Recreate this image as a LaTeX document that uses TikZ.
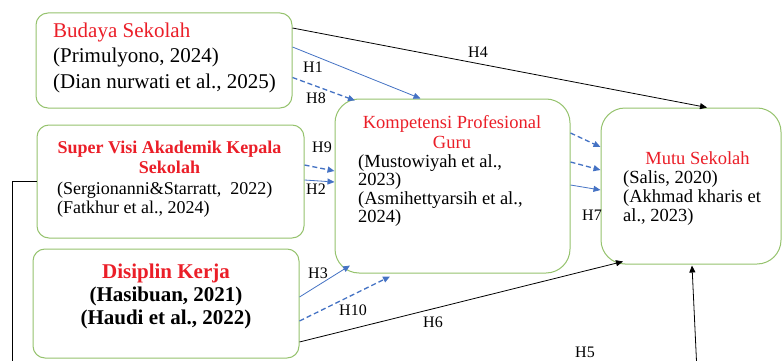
\documentclass[tikz,border=0pt]{standalone}
\usepackage{fontspec}
\setmainfont{Liberation Serif}
\usetikzlibrary{arrows.meta}
\definecolor{boxgreen}{RGB}{150,195,110}
\definecolor{titlered}{RGB}{235,30,40}
\definecolor{arrowblue}{RGB}{68,114,196}
\tikzset{
 box/.style={draw=boxgreen, line width=1pt, rounded corners=12pt, inner sep=0pt},
 bigbox/.style={box, rounded corners=24pt},
 blk/.style={-{Triangle[length=7pt,width=6pt]}, line width=0.8pt, draw=black},
 bl/.style={-{Triangle[length=7pt,width=6pt]}, line width=0.8pt, draw=arrowblue},
 bld/.style={bl, line width=1.3pt, dash pattern=on 5pt off 3pt},
 hl/.style={font=\fontsize{16}{18}\selectfont, inner sep=0pt},
 txt/.style={inner sep=0pt},
}
\begin{document}
\begin{tikzpicture}[x=1pt,y=-1pt]
\useasboundingbox[fill=white] (0,0) rectangle (782,361);
% boxes
\node[box, minimum width=256pt, minimum height=95pt] (b1) at (164,60.5) {};
\node[box, minimum width=267pt, minimum height=113pt] (b2) at (170.5,181.5) {};
\node[box, minimum width=266pt, minimum height=109pt] (b3) at (166,303.5) {};
\node[bigbox, minimum width=235pt, minimum height=174pt] (kpg) at (452.5,186) {};
\node[bigbox, minimum width=180pt, minimum height=156pt] (mutu) at (691,186) {};
% texts
\node[txt, anchor=west, align=left, font=\fontsize{21}{25.5}\selectfont] (t1) at (53,57.5)
 {\textcolor{titlered}{Budaya Sekolah}\\(Primulyono, 2024)\\(Dian nurwati et al., 2025)};
\node[txt, align=center, font=\bfseries\fontsize{18}{20}\selectfont, text=titlered] (t2) at (169.5,157)
 {Super Visi Akademik Kepala\\Sekolah};
\node[txt, anchor=west, align=left, font=\fontsize{18}{19}\selectfont] (c2) at (57,200)
 {(Sergionanni\&Starratt,\ \ 2022)\\(Fatkhur et al., 2024)};
\node[txt, align=center, font=\bfseries\fontsize{21}{23}\selectfont] (t3) at (166,296)
 {\textcolor{titlered}{Disiplin Kerja}\\(Hasibuan, 2021)\\(Haudi et al., 2022)};
\node[txt, align=center, font=\fontsize{18.5}{19.5}\selectfont, text=titlered] (t4) at (452,132)
 {Kompetensi Profesional\\Guru};
\node[txt, anchor=west, align=left, font=\fontsize{18.5}{18.5}\selectfont] (c4) at (358,190.5)
 {(Mustowiyah et al.,\\2023)\\(Asmihettyarsih et al.,\\2024)};
\node[txt, font=\fontsize{18.5}{20}\selectfont, text=titlered] (t5) at (697.5,158.5) {Mutu Sekolah};
\node[txt, anchor=west, align=left, font=\fontsize{18.5}{19}\selectfont] (c5) at (623,198)
 {(Salis, 2020)\\(Akhmad kharis et\\al., 2023)};
% connectors
\draw[blk] ([yshift=32.5pt]b1.east) -- ([xshift=16pt]mutu.north);
\draw[bl] ([yshift=13.5pt]b1.east) -- ([xshift=-32pt]kpg.north);
\draw[bld] ([yshift=-17pt]b1.east) -- ([xshift=-97.5pt,yshift=-2pt]kpg.north);
\draw[bld] ([yshift=16.5pt]b2.east) -- ([yshift=15pt]kpg.west);
\draw[bl] ([yshift=1.5pt]b2.east) -- ([yshift=4pt]kpg.west);
\draw[bl] ([yshift=6.5pt]b3.east) -- ([xshift=-102.5pt,yshift=8pt]kpg.south);
\draw[bld] ([yshift=-17.5pt]b3.east) -- ([xshift=-62.5pt,yshift=-3pt]kpg.south);
\draw[blk] ([yshift=-38.5pt]b3.east) -- ([xshift=-68pt,yshift=3pt]mutu.south);
\draw[bld] ([yshift=53pt]kpg.east) -- ([yshift=39pt]mutu.west);
\draw[bld] ([yshift=24pt]kpg.east) -- ([yshift=16pt]mutu.west);
\draw[bl] ([yshift=1pt]kpg.east) -- ([yshift=-4pt]mutu.west);
\coordinate (h5s) at (697,372);
\draw[blk] (h5s) -- ([xshift=1pt,yshift=-1pt]mutu.south);
\coordinate (lb) at (12,372);
\draw[line width=0.8pt] (b2.west) -- (b2.west -| lb) -- (lb);
% labels
\node[hl] (lh4) at (478,52) {H4};
\node[hl] (lh1) at (313,67) {H1};
\node[hl] (lh8) at (316,98) {H8};
\node[hl] (lh9) at (322,147) {H9};
\node[hl] (lh2) at (316,189) {H2};
\node[hl] (lh7) at (592,215) {H7};
\node[hl] (lh3) at (318,273) {H3};
\node[hl] (lh10) at (353,310) {H10};
\node[hl] (lh6) at (433,322) {H6};
\node[hl] (lh5) at (585,352) {H5};
\end{tikzpicture}
\end{document}
